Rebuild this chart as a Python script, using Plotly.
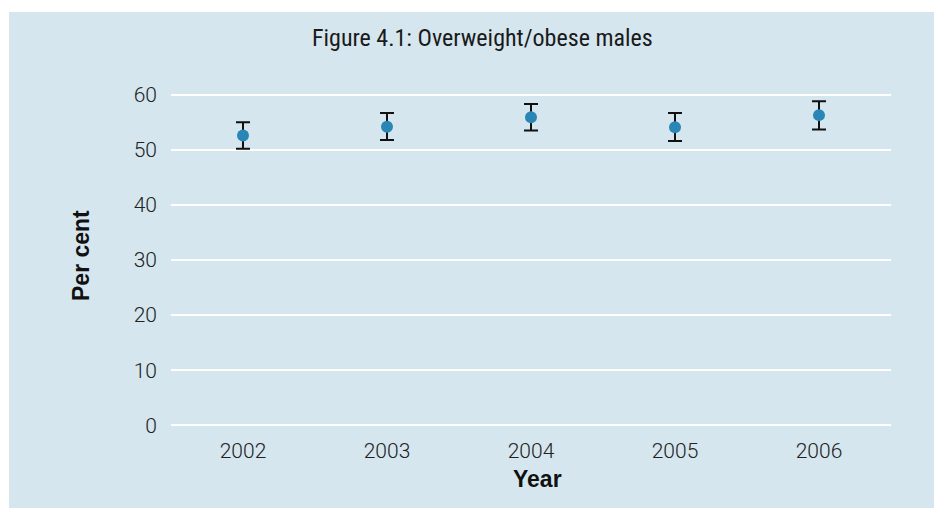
import plotly.graph_objects as go

years = ["2002", "2003", "2004", "2005", "2006"]
values = [52.6, 54.2, 55.9, 54.1, 56.3]
err_plus = [2.4, 2.5, 2.4, 2.6, 2.5]
err_minus = [2.4, 2.4, 2.4, 2.5, 2.6]
y_ticks = [0, 10, 20, 30, 40, 50, 60]

# page has an 8px body margin; work in reference pixel coords, offset by OFF
OFF = 8
W, H = 942 - OFF, 508 - OFF
ml, mr, mt, mb = 171 - OFF, 51, 92 - OFF, 80
pw, ph = W - ml - mr, H - mt - mb

def px_x(x):
    return (x - OFF - ml) / pw

def px_y(y):
    return (H - mb - (y - OFF)) / ph

fig = go.Figure()
fig.add_trace(go.Scatter(
    x=years, y=values, mode="markers",
    marker=dict(size=12, color="#2a86b4"),
    error_y=dict(type="data", symmetric=False, array=err_plus, arrayminus=err_minus,
                 color="#111111", thickness=2, width=7),
    showlegend=False,
))

fig.add_shape(type="rect", xref="paper", yref="paper",
              x0=px_x(9), x1=px_x(960), y0=px_y(530), y1=px_y(12),
              fillcolor="#d5e6ef", line=dict(width=0), layer="below")

fig.add_annotation(text="Figure 4.1: Overweight/obese males", xref="paper", yref="paper",
                   x=px_x(482), y=px_y(38), showarrow=False,
                   xanchor="center", yanchor="middle",
                   font=dict(family="Liberation Sans Narrow, Roboto Condensed, Roboto",
                             size=24, color="#1a1a1a"))
fig.add_annotation(text="<b>Per cent</b>", xref="paper", yref="paper",
                   x=px_x(81), y=px_y(256), showarrow=False, textangle=-90,
                   xanchor="center", yanchor="middle",
                   font=dict(family="Liberation Sans, Arial", size=23, color="#111111"))
fig.add_annotation(text="<b>Year</b>", xref="paper", yref="paper",
                   x=px_x(537), y=px_y(479), showarrow=False,
                   xanchor="center", yanchor="middle",
                   font=dict(family="Liberation Sans, Arial", size=23, color="#111111"))

fig.update_layout(
    width=W, height=H,
    margin=dict(l=ml, r=mr, t=mt, b=mb, pad=0),
    paper_bgcolor="white",
    plot_bgcolor="rgba(0,0,0,0)",
    font=dict(family="Roboto", size=21, color="#222222"),
)
fig.update_xaxes(type="category", range=[-0.5, 4.5], showgrid=False, showline=False,
                 zeroline=False, ticks="", ticklabelstandoff=8,
                 tickfont=dict(family="Roboto", size=21, color="#222222", weight=300))
fig.update_yaxes(range=[-0.5, 60.5], tickvals=y_ticks, showgrid=True, gridcolor="white",
                 gridwidth=2, zeroline=False, showline=False, ticks="",
                 ticklabelstandoff=13,
                 tickfont=dict(family="Roboto", size=21, color="#222222", weight=300))

fig.write_html("out.html")
